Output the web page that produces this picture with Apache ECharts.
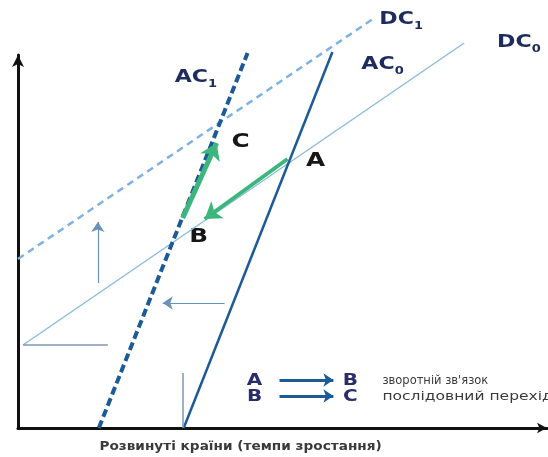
<!DOCTYPE html>
<html>
<head>
<meta charset="utf-8">
<style>
  html, body { margin: 0; padding: 0; background: #fff; }
  #chart { width: 548px; height: 457px; }
</style>
<script src="https://cdn.jsdelivr.net/npm/echarts@6/dist/echarts.min.js"></script>
</head>
<body>
<div id="chart"></div>
<script>
// криві (умовні одиниці)
const ac0 = [[16.6, 0], [31.5, 37.6]];
const ac1 = [[8.1, 0], [23.0, 37.5]];
const dc0 = [[0.5, 8.3], [44.7, 38.5]];
const dc1 = [[0, 16.9], [35.7, 41.0]];
// допоміжні стрілки та відрізки
const shiftUp = [[8.0, 14.5], [8.0, 20.6]];
const shiftLeft = [[20.7, 12.5], [14.5, 12.5]];
const baseH = [[0.5, 8.3], [9.0, 8.3]];
const baseV = [[16.5, 5.5], [16.5, 0]];
// перехід A -> B -> C
const pathAB = [[27.0, 26.9], [18.7, 20.9]];
const pathBC = [[16.5, 21.0], [19.9, 28.5]];
// підписи точок і кривих
const pointNames = ['A', 'B', 'C'];
const pointPos = [[29.8, 26.7], [18.1, 19.1], [22.3, 28.6]];
const curveNames = [['DC', '1'], ['DC', '0'], ['AC', '0'], ['AC', '1']];
const curvePos = [[36.2, 40.8], [48.0, 38.5], [34.4, 36.3], [15.7, 35.0]];
// легенда
const legendFrom = ['A', 'B'];
const legendTo = ['B', 'C'];
const legendText = ['зворотній зв\'язок', 'послідовний перехід'];
const legendArrows = [[[26.2, 4.8], [31.6, 4.8]], [[26.2, 3.2], [31.6, 3.2]]];
const xName = 'Розвинуті країни (темпи зростання)';

const navy = '#1e2b5e';
const dark = '#1d5a98';

function seg(coords, color, width, type, arrow) {
  return {
    type: 'lines',
    coordinateSystem: 'cartesian2d',
    polyline: false,
    clip: false,
    silent: true,
    symbol: arrow ? ['none', 'arrow'] : ['none', 'none'],
    symbolSize: arrow ? arrow : 0,
    lineStyle: { color: color, width: width, type: type || 'solid', opacity: 1 },
    data: [{ coords: coords }]
  };
}

const chart = echarts.init(document.getElementById('chart'), null, { renderer: 'canvas' });

chart.setOption({
  animation: false,
  backgroundColor: '#fff',
  grid: { left: 18, right: 1, top: 55, bottom: 29 },
  xAxis: {
    type: 'value', min: 0, max: 53,
    axisLine: { show: true, symbol: ['none', 'arrow'], symbolSize: [8, 10], lineStyle: { color: '#111', width: 3 } },
    axisTick: { show: false }, axisLabel: { show: false }, splitLine: { show: false }
  },
  yAxis: {
    type: 'value', min: 0, max: 37.3,
    axisLine: { show: true, symbol: ['none', 'arrow'], symbolSize: [9, 12], lineStyle: { color: '#111', width: 3 } },
    axisTick: { show: false }, axisLabel: { show: false }, splitLine: { show: false }
  },
  series: [
    seg(dc0, '#8dbce0', 1.5),
    seg(dc1, '#7fb2e3', 2.5, [7, 5]),
    seg(ac0, dark, 2.5),
    seg(ac1, dark, 4, [8, 4]),
    seg(baseH, '#7d98b3', 1.5),
    seg(baseV, '#7d98b3', 1.5),
    seg(shiftUp, '#6b90ba', 1.2, 'solid', [8, 10]),
    seg(shiftLeft, '#6b90ba', 1.2, 'solid', [8, 10]),
    seg(pathAB, '#3cb77b', 4, 'solid', [14, 16]),
    seg(pathBC, '#3cb77b', 5, 'solid', [14, 16]),
    seg(legendArrows[0], dark, 3, 'solid', [8, 10]),
    seg(legendArrows[1], dark, 3, 'solid', [8, 10])
  ]
});

// підписи: позиції беремо з осей графіка
const toPx = (p) => chart.convertToPixel({ gridIndex: 0 }, p);
const graphic = [];

pointNames.forEach((name, i) => {
  const p = toPx(pointPos[i]);
  graphic.push({
    type: 'text', x: p[0], y: p[1], scaleX: 1.3,
    style: { text: name, fill: '#161616', font: 'bold 19px "DejaVu Sans"', align: 'center', verticalAlign: 'middle' }
  });
});

curveNames.forEach((name, i) => {
  const p = toPx(curvePos[i]);
  graphic.push({
    type: 'text', x: p[0], y: p[1], scaleX: 1.3,
    style: {
      text: '{m|' + name[0] + '}{s|' + name[1] + '}',
      align: 'left', verticalAlign: 'middle',
      rich: {
        m: { fill: navy, font: 'bold 17px "DejaVu Sans"', verticalAlign: 'bottom' },
        s: { fill: navy, font: 'bold 10px "DejaVu Sans"', verticalAlign: 'bottom', padding: [0, 0, -3, 0] }
      }
    }
  });
});

legendArrows.forEach((arr, i) => {
  const a = toPx(arr[0]);
  const b = toPx(arr[1]);
  graphic.push({
    type: 'text', x: a[0] - 25, y: a[1] + 1, scaleX: 1.25,
    style: { text: legendFrom[i], fill: '#2a2d6c', font: 'bold 16px "DejaVu Sans"', align: 'center', verticalAlign: 'middle' }
  });
  graphic.push({
    type: 'text', x: b[0] + 17, y: b[1] + 1, scaleX: 1.25,
    style: { text: legendTo[i], fill: '#2a2d6c', font: 'bold 16px "DejaVu Sans"', align: 'center', verticalAlign: 'middle' }
  });
  graphic.push({
    type: 'text', x: b[0] + 49, y: b[1] + 1, scaleX: i === 0 ? 1.0 : 1.35,
    style: { text: legendText[i], fill: '#3a3a3a', font: '11.5px "DejaVu Sans"', align: 'left', verticalAlign: 'middle' }
  });
});

const xMid = toPx([22.3, 0]);
graphic.push({
  type: 'text', x: xMid[0], y: xMid[1] + 19, scaleX: 1.05,
  style: { text: xName, fill: '#3a3a3a', font: 'bold 13px "DejaVu Sans"', align: 'center', verticalAlign: 'middle' }
});

chart.setOption({ graphic: graphic });
</script>
</body>
</html>
